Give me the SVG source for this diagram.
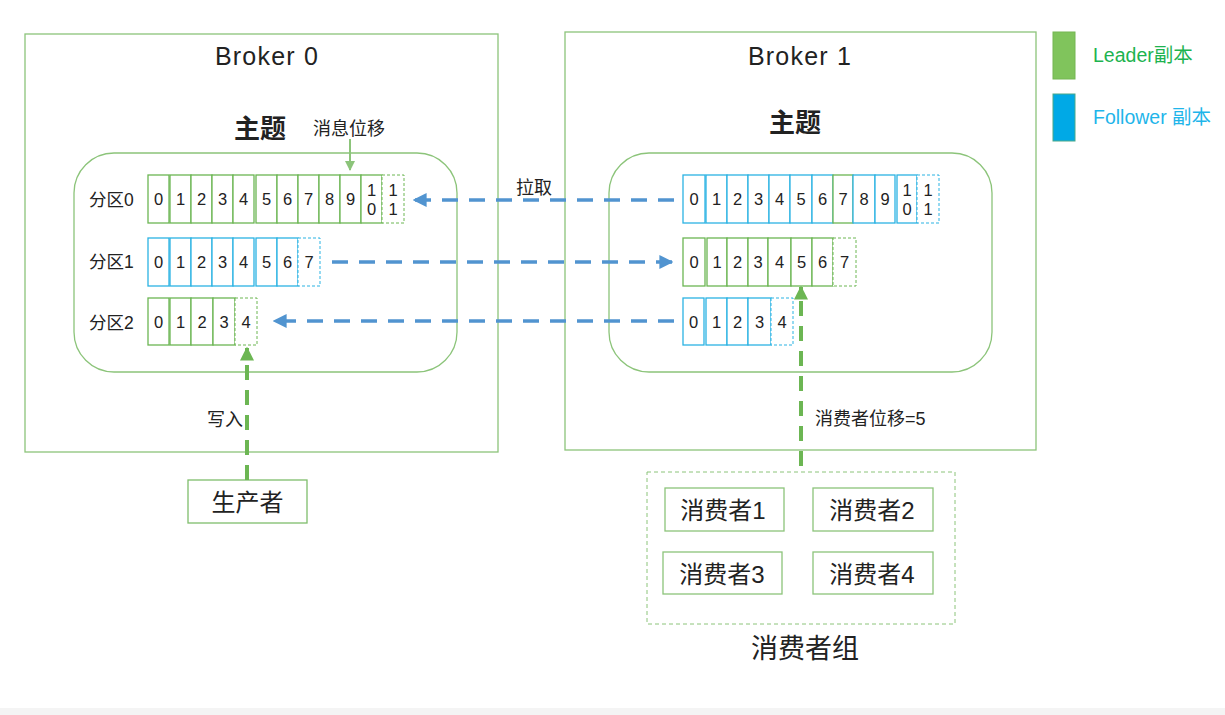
<svg xmlns="http://www.w3.org/2000/svg" width="1225" height="715" viewBox="0 0 1225 715">
<style>
text{font-family:"Liberation Sans","Noto Sans CJK SC",sans-serif;fill:#222}
.box{fill:none;stroke:#8cc47a;stroke-width:1.3}
.lc{fill:#fff;stroke:#6cb653;stroke-width:1.3}
.fc{fill:#fff;stroke:#2bb3e3;stroke-width:1.3}
.ld{fill:#fff;stroke:#6cb653;stroke-width:1;stroke-dasharray:3 2}
.fd{fill:#fff;stroke:#2bb3e3;stroke-width:1;stroke-dasharray:3 2}
.d{font-size:16.5px;text-anchor:middle}
.pl{font-size:17.5px}
.ttl{font-size:25px;text-anchor:middle;letter-spacing:1.2px}
.top{font-size:26px;text-anchor:middle;font-weight:bold}
.cn{font-size:24px;text-anchor:middle}
.sm{font-size:18px}
.blue{fill:none;stroke:#5194d0;stroke-width:3.5;stroke-dasharray:16 11}
.green{fill:none;stroke:#6cb653;stroke-width:4;stroke-dasharray:15 10}
</style>
<defs>
<marker id="ab" viewBox="0 0 10 10" refX="9" refY="5" markerWidth="4" markerHeight="4" orient="auto"><path d="M0,0L10,5L0,10z" fill="#5194d0"/></marker>
<marker id="ag" viewBox="0 0 10 10" refX="9" refY="5" markerWidth="3.5" markerHeight="3.5" orient="auto"><path d="M0,0L10,5L0,10z" fill="#6cb653"/></marker>
<marker id="ag2" viewBox="0 0 10 10" refX="9" refY="5" markerWidth="5" markerHeight="5" orient="auto"><path d="M0,0L10,5L0,10z" fill="#8cc47a"/></marker>
</defs>
<rect x="0" y="0" width="1225" height="715" fill="#fff"/>
<rect x="0" y="708" width="1225" height="7" fill="#f4f4f4"/>

<g id="broker0">
<rect class="box" x="25" y="34" width="473" height="418"/>
<text class="ttl" x="267" y="65">Broker 0</text>
<text class="top" x="260" y="138">主题</text>
<rect class="box" x="74" y="153" width="383" height="219" rx="40"/>
<text class="pl" x="89" y="206">分区0</text>
<text class="pl" x="89" y="268">分区1</text>
<text class="pl" x="89" y="329">分区2</text>
</g>

<g id="b0p0">
<rect class="lc" x="148" y="175" width="21" height="48"/><text class="d" x="158.5" y="205">0</text>
<rect class="lc" x="170" y="175" width="21" height="48"/><text class="d" x="180.5" y="205">1</text>
<rect class="lc" x="191" y="175" width="21" height="48"/><text class="d" x="201.5" y="205">2</text>
<rect class="lc" x="212" y="175" width="21" height="48"/><text class="d" x="222.5" y="205">3</text>
<rect class="lc" x="233" y="175" width="21" height="48"/><text class="d" x="243.5" y="205">4</text>
<rect class="lc" x="256" y="175" width="21" height="48"/><text class="d" x="266.5" y="205">5</text>
<rect class="lc" x="277" y="175" width="21" height="48"/><text class="d" x="287.5" y="205">6</text>
<rect class="lc" x="298" y="175" width="21" height="48"/><text class="d" x="308.5" y="205">7</text>
<rect class="lc" x="319" y="175" width="21" height="48"/><text class="d" x="329.5" y="205">8</text>
<rect class="lc" x="340" y="175" width="21" height="48"/><text class="d" x="350.5" y="205">9</text>
<rect class="lc" x="361" y="175" width="21" height="48"/><text class="d" x="371.5" y="196">1</text><text class="d" x="371.5" y="215">0</text>
<rect class="ld" x="382" y="175" width="22" height="48"/><text class="d" x="393" y="196">1</text><text class="d" x="393" y="215">1</text>
</g>

<g id="b0p1">
<rect class="fc" x="148" y="238" width="21" height="48"/><text class="d" x="158.5" y="268">0</text>
<rect class="fc" x="170" y="238" width="21" height="48"/><text class="d" x="180.5" y="268">1</text>
<rect class="fc" x="191" y="238" width="21" height="48"/><text class="d" x="201.5" y="268">2</text>
<rect class="fc" x="212" y="238" width="21" height="48"/><text class="d" x="222.5" y="268">3</text>
<rect class="fc" x="233" y="238" width="21" height="48"/><text class="d" x="243.5" y="268">4</text>
<rect class="fc" x="256" y="238" width="21" height="48"/><text class="d" x="266.5" y="268">5</text>
<rect class="fc" x="277" y="238" width="21" height="48"/><text class="d" x="287.5" y="268">6</text>
<rect class="fd" x="298" y="238" width="22" height="48"/><text class="d" x="309" y="268">7</text>
</g>

<g id="b0p2">
<rect class="lc" x="148" y="298" width="21" height="47"/><text class="d" x="158.5" y="328">0</text>
<rect class="lc" x="170" y="298" width="21" height="47"/><text class="d" x="180.5" y="328">1</text>
<rect class="lc" x="191" y="298" width="22" height="47"/><text class="d" x="202" y="328">2</text>
<rect class="lc" x="213" y="298" width="22" height="47"/><text class="d" x="224" y="328">3</text>
<rect class="ld" x="235" y="298" width="22" height="47"/><text class="d" x="246" y="328">4</text>
</g>

<g id="broker1">
<rect class="box" x="565" y="32" width="471" height="418"/>
<text class="ttl" x="800" y="65">Broker 1</text>
<text class="top" x="795" y="132">主题</text>
<rect class="box" x="609" y="153" width="383" height="219" rx="40"/>
</g>

<g id="b1p0">
<rect class="fc" x="683" y="175" width="22" height="48"/><text class="d" x="694" y="205">0</text>
<rect class="fc" x="706" y="175" width="21" height="48"/><text class="d" x="716.5" y="205">1</text>
<rect class="fc" x="727" y="175" width="21" height="48"/><text class="d" x="737.5" y="205">2</text>
<rect class="fc" x="748" y="175" width="21" height="48"/><text class="d" x="758.5" y="205">3</text>
<rect class="fc" x="769" y="175" width="21" height="48"/><text class="d" x="779.5" y="205">4</text>
<rect class="fc" x="790" y="175" width="22" height="48"/><text class="d" x="801" y="205">5</text>
<rect class="fc" x="812" y="175" width="21" height="48"/><text class="d" x="822.5" y="205">6</text>
<rect class="lc" x="833" y="175" width="20" height="48"/><text class="d" x="843" y="205">7</text>
<rect class="fc" x="853" y="175" width="22" height="48"/><text class="d" x="864" y="205">8</text>
<rect class="fc" x="875" y="175" width="20" height="48"/><text class="d" x="885" y="205">9</text>
<rect class="fc" x="897" y="175" width="20" height="48"/><text class="d" x="907" y="196">1</text><text class="d" x="907" y="215">0</text>
<rect class="fd" x="917" y="175" width="22" height="48"/><text class="d" x="928" y="196">1</text><text class="d" x="928" y="215">1</text>
</g>

<g id="b1p1">
<rect class="lc" x="683" y="238" width="22" height="48"/><text class="d" x="694" y="268">0</text>
<rect class="lc" x="707" y="238" width="20" height="48"/><text class="d" x="717" y="268">1</text>
<rect class="lc" x="727" y="238" width="21" height="48"/><text class="d" x="737.5" y="268">2</text>
<rect class="lc" x="748" y="238" width="20" height="48"/><text class="d" x="758" y="268">3</text>
<rect class="lc" x="768" y="238" width="23" height="48"/><text class="d" x="779.5" y="268">4</text>
<rect class="lc" x="791" y="238" width="21" height="48"/><text class="d" x="801.5" y="268">5</text>
<rect class="lc" x="812" y="238" width="21" height="48"/><text class="d" x="822.5" y="268">6</text>
<rect class="ld" x="833" y="238" width="23" height="48"/><text class="d" x="844.5" y="268">7</text>
</g>

<g id="b1p2">
<rect class="fc" x="683" y="298" width="21" height="47"/><text class="d" x="693.5" y="328">0</text>
<rect class="fc" x="706" y="298" width="21" height="47"/><text class="d" x="716.5" y="328">1</text>
<rect class="fc" x="727" y="298" width="21" height="47"/><text class="d" x="737.5" y="328">2</text>
<rect class="fc" x="748" y="298" width="23" height="47"/><text class="d" x="759.5" y="328">3</text>
<rect class="fd" x="771" y="298" width="22" height="47"/><text class="d" x="782" y="328">4</text>
</g>

<g id="producer">
<rect class="box" x="188" y="480" width="119" height="43" style="stroke:#7fbd6c"/>
<text class="cn" x="247.5" y="511">生产者</text>
</g>

<g id="consumer-group">
<rect x="647" y="472" width="308" height="152" style="fill:none;stroke:#8cc47a;stroke-width:1;stroke-dasharray:4 3"/>
<text x="805" y="658" style="font-size:27px;text-anchor:middle">消费者组</text>
</g>
<g id="consumer1"><rect class="box" x="665" y="488" width="119" height="43"/><text class="cn" x="723" y="519">消费者1</text></g>
<g id="consumer2"><rect class="box" x="813" y="488" width="120" height="43"/><text class="cn" x="872" y="519">消费者2</text></g>
<g id="consumer3"><rect class="box" x="663" y="552" width="119" height="42"/><text class="cn" x="722" y="583">消费者3</text></g>
<g id="consumer4"><rect class="box" x="813" y="552" width="120" height="42"/><text class="cn" x="872" y="583">消费者4</text></g>

<g id="legend">
<rect x="1053" y="32" width="22" height="47" fill="#80c45c" stroke="#74b653" stroke-width="1"/>
<text x="1093" y="62" style="font-size:19.5px;fill:#1db34f">Leader副本</text>
<rect x="1053" y="94" width="22" height="47" fill="#00a9e6" stroke="#4aa88a" stroke-width="1"/>
<text x="1093" y="124" style="font-size:19.5px;fill:#1fb5ea">Follower 副本</text>
</g>

<g id="connectors">
<line class="blue" x1="674" y1="200" x2="414" y2="200" marker-end="url(#ab)"/>
<line class="blue" x1="332" y1="262" x2="672" y2="262" marker-end="url(#ab)"/>
<line class="blue" x1="674" y1="321" x2="274" y2="321" marker-end="url(#ab)"/>
<line class="green" x1="247" y1="480" x2="247" y2="348" marker-end="url(#ag)"/>
<line class="green" x1="801" y1="466" x2="801" y2="287" marker-end="url(#ag)"/>
<line x1="350" y1="139" x2="350" y2="170" stroke="#8cc47a" stroke-width="2" marker-end="url(#ag2)"/>
<text class="sm" x="313" y="135">消息位移</text>
<text class="sm" x="516" y="194">拉取</text>
<text class="sm" x="207" y="426">写入</text>
<text class="sm" x="815" y="425">消费者位移=5</text>
</g>
</svg>
